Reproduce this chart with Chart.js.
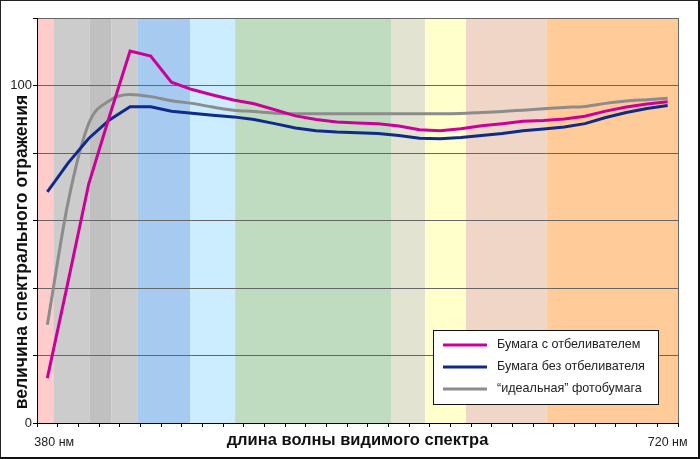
<!DOCTYPE html>
<html>
<head>
<meta charset="utf-8">
<script src="https://cdn.jsdelivr.net/npm/chart.js@4.4.0/dist/chart.umd.min.js"></script>
<style>
body { margin: 0; background: #fff; }
#wrap { width: 697px; height: 456px; border-left: 1px solid #222; border-top: 1px solid #222; border-right: 2px solid #111; border-bottom: 2px solid #111; }
</style>
</head>
<body>
<div id="wrap"><canvas id="chart" width="697" height="456"></canvas></div>
<script>
// 31 точка по оси x, подписаны только края
var categories = ['380 нм', '', '', '', '', '', '', '', '', '', '', '', '', '', '', '', '', '', '', '', '', '', '', '', '', '', '', '', '', '', '720 нм'];

var withWhitener = [13.3, 41.8, 70.8, 90.8, 110.2, 108.7, 101.0, 98.8, 97.2, 95.7, 94.6, 92.8, 91.0, 89.9, 89.2, 88.9, 88.7, 88.0, 86.9, 86.6, 87.2, 88.1, 88.7, 89.4, 89.6, 90.1, 90.9, 92.4, 93.6, 94.5, 95.2];
var noWhitener = [68.5, 77.0, 84.3, 89.8, 93.7, 93.7, 92.4, 91.8, 91.2, 90.7, 89.9, 88.7, 87.4, 86.6, 86.2, 86.0, 85.8, 85.2, 84.4, 84.2, 84.6, 85.2, 85.8, 86.6, 87.1, 87.7, 88.7, 90.5, 92.0, 93.2, 94.1];
var idealPaper = [29.1, 65.3, 88.7, 95.5, 97.3, 96.7, 95.5, 94.7, 93.6, 92.7, 92.3, 91.8, 91.6, 91.6, 91.6, 91.6, 91.6, 91.6, 91.6, 91.6, 91.7, 92.0, 92.3, 92.7, 93.1, 93.5, 93.8, 94.7, 95.4, 95.8, 96.2];

var yLabelled = [0, 100];

// границы цветных полос спектра, в единицах оси x
var bandEdges = [-0.5, 0.29, 2.06, 3.11, 4.35, 6.9, 9.08, 16.65, 18.27, 20.25, 24.15, 30.5];
var bandColors = ['#FFCCCC', '#CCCCCC', '#C0C0C0', '#CCCCCC', '#A6CAF0', '#CCECFF', '#C0DCC0', '#E3E3D2', '#FFFFCC', '#EFD6C7', '#FFCC99'];

Chart.defaults.font.family = '"Liberation Sans", Arial, sans-serif';

var spectrum = {
  id: 'spectrum',
  beforeDraw: function (chart) {
    var ctx = chart.ctx, a = chart.chartArea, xs = chart.scales.x;
    ctx.save();
    ctx.fillStyle = '#fff';
    ctx.fillRect(0, 0, chart.width, chart.height);
    for (var i = 0; i < bandColors.length; i++) {
      var x0 = xs.getPixelForValue(bandEdges[i]);
      var x1 = xs.getPixelForValue(bandEdges[i + 1]);
      ctx.fillStyle = bandColors[i];
      ctx.fillRect(x0, a.top, x1 - x0, a.bottom - a.top);
    }
    ctx.restore();
  },
  beforeDatasetsDraw: function (chart) {
    var ctx = chart.ctx, a = chart.chartArea;
    ctx.save();
    ctx.strokeStyle = '#666';
    ctx.lineWidth = 1;
    ctx.beginPath();
    ctx.moveTo(Math.round(a.right) + 0.5, a.top);
    ctx.lineTo(Math.round(a.right) + 0.5, a.bottom);
    ctx.stroke();
    ctx.restore();
  }
};

var boxLegend = {
  id: 'boxLegend',
  afterDraw: function (chart) {
    var ctx = chart.ctx, a = chart.chartArea;
    var w = 225, h = 74;
    var x = Math.round(a.right - 20 - w), y = Math.round(a.bottom - 19 - h);
    ctx.save();
    ctx.fillStyle = '#fff';
    ctx.fillRect(x, y, w, h);
    ctx.strokeStyle = '#111';
    ctx.lineWidth = 1;
    ctx.strokeRect(x + 0.5, y + 0.5, w, h);
    ctx.font = '12.6px "Liberation Sans", Arial, sans-serif';
    ctx.textBaseline = 'middle';
    chart.data.datasets.forEach(function (ds, i) {
      var ry = y + 15 + i * 22;
      ctx.strokeStyle = ds.borderColor;
      ctx.lineWidth = 3;
      ctx.beginPath();
      ctx.moveTo(x + 10, ry);
      ctx.lineTo(x + 54, ry);
      ctx.stroke();
      ctx.fillStyle = '#222';
      ctx.fillText(ds.label, x + 64, ry);
    });
    ctx.restore();
  }
};

new Chart(document.getElementById('chart'), {
  type: 'line',
  data: {
    labels: categories,
    datasets: [
      { label: 'Бумага с отбеливателем', data: withWhitener, borderColor: '#CC0099', borderWidth: 3, tension: 0, pointRadius: 0 },
      { label: 'Бумага без отбеливателя', data: noWhitener, borderColor: '#102A8C', borderWidth: 3, tension: 0, pointRadius: 0 },
      { label: '“идеальная” фотобумага', data: idealPaper, borderColor: '#8C8C8C', borderWidth: 3, cubicInterpolationMode: 'monotone', pointRadius: 0 }
    ]
  },
  options: {
    responsive: false,
    animation: false,
    layout: { padding: { left: 0, top: 17, right: 20, bottom: 0 } },
    plugins: { legend: { display: false }, tooltip: { enabled: false } },
    scales: {
      x: {
        offset: true,
        grid: { offset: true, drawOnChartArea: false, drawTicks: true, tickLength: 4, tickColor: '#000' },
        border: { color: '#000' },
        ticks: {
          autoSkip: false, maxRotation: 0, padding: 8, color: '#222', font: { size: 12.5 },
          callback: function (v, i) { return i === 0 ? '    ' + categories[i] : categories[i]; }
        },
        title: { display: true, text: 'длина волны видимого спектра', color: '#111', font: { size: 16.5, weight: 'bold' }, padding: { top: 0, bottom: 7 } },
        afterFit: function (s) { s.height = 34; }
      },
      y: {
        min: 0, max: 120,
        grid: { color: '#666', tickLength: 4, tickColor: '#000' },
        border: { color: '#000' },
        ticks: {
          stepSize: 20, padding: 1, color: '#222', font: { size: 13 },
          callback: function (v) { return yLabelled.indexOf(v) >= 0 ? String(v) : ''; }
        },
        title: { display: true, text: 'величина спектрального отражения             ', color: '#111', font: { size: 17.5, weight: 'bold' }, padding: { top: 11, bottom: 0 } },
        afterFit: function (s) { s.width = 36; }
      }
    }
  },
  plugins: [spectrum, boxLegend]
});
</script>
</body>
</html>
